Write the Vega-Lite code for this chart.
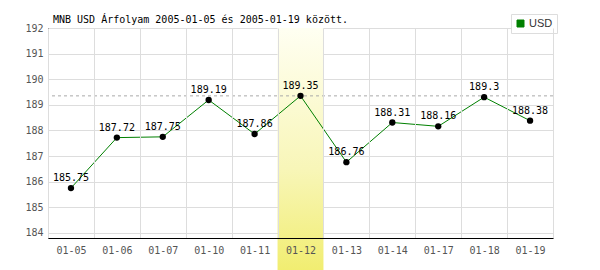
{
  "$schema": "https://vega.github.io/schema/vega-lite/v6.json",
  "width": 505,
  "height": 210,
  "autosize": {"type": "none"},
  "padding": {"left": 48, "top": 28, "right": 47, "bottom": 32},
  "background": "white",
  "title": {
    "text": "MNB USD Árfolyam 2005-01-05 és 2005-01-19 között.",
    "anchor": "start",
    "frame": "group",
    "dx": 5,
    "dy": 17,
    "offset": 6,
    "font": "DejaVu Sans Mono",
    "fontSize": 10,
    "fontWeight": "normal",
    "color": "black"
  },
  "config": {
    "view": {"stroke": null},
    "axis": {
      "labelFont": "DejaVu Sans Mono",
      "labelFontSize": 10,
      "labelColor": "#555",
      "domainColor": "black",
      "domainWidth": 1,
      "ticks": false,
      "gridColor": "#ddd",
      "gridWidth": 1,
      "labelOverlap": false,
      "title": null
    }
  },
  "datasets": {
    "rates": [
      {"d": "01-05", "v": 185.75},
      {"d": "01-06", "v": 187.72},
      {"d": "01-07", "v": 187.75},
      {"d": "01-10", "v": 189.19},
      {"d": "01-11", "v": 187.86},
      {"d": "01-12", "v": 189.35},
      {"d": "01-13", "v": 186.76},
      {"d": "01-14", "v": 188.31},
      {"d": "01-17", "v": 188.16},
      {"d": "01-18", "v": 189.3},
      {"d": "01-19", "v": 188.38}
    ],
    "highlight": [
      {"d": "01-12", "top": 192, "bottom": 181}
    ]
  },
  "encoding": {
    "x": {
      "field": "d",
      "type": "nominal",
      "sort": ["01-05", "01-06", "01-07", "01-10", "01-11", "01-12", "01-13", "01-14", "01-17", "01-18", "01-19"],
      "scale": {"type": "band", "paddingInner": 0, "paddingOuter": 0},
      "axis": {"labelAngle": 0, "labelPadding": 7, "grid": true, "tickBand": "extent", "zindex": 1}
    }
  },
  "layer": [
    {
      "data": {"name": "highlight"},
      "mark": {
        "type": "rect",
        "fill": {
          "gradient": "linear",
          "x1": 0, "y1": 0, "x2": 0, "y2": 1,
          "stops": [
            {"offset": 0, "color": "#fffff2"},
            {"offset": 0.5, "color": "#f8f6b8"},
            {"offset": 1, "color": "#eeea55"}
          ]
        }
      },
      "encoding": {
        "y": {
          "field": "top",
          "type": "quantitative",
          "scale": {"domain": [183.8, 192], "nice": false, "zero": false},
          "axis": {"values": [184, 185, 186, 187, 188, 189, 190, 191, 192], "labelPadding": 5, "grid": true, "zindex": 0}
        },
        "y2": {"field": "bottom"}
      }
    },
    {
      "data": {"name": "rates"},
      "mark": {"type": "rule", "color": "#aaa", "strokeDash": [3, 3], "strokeWidth": 1},
      "encoding": {
        "x": null,
        "y": {"aggregate": "max", "field": "v", "type": "quantitative",
          "axis": {"values": [184, 185, 186, 187, 188, 189, 190, 191, 192], "labelPadding": 5, "grid": true, "zindex": 0}}
      }
    },
    {
      "data": {"name": "rates"},
      "mark": {"type": "line", "strokeWidth": 1},
      "encoding": {
        "y": {"field": "v", "type": "quantitative",
          "axis": {"values": [184, 185, 186, 187, 188, 189, 190, 191, 192], "labelPadding": 5, "grid": true, "zindex": 0}},
        "color": {
          "datum": "USD",
          "scale": {"range": ["#008000"]},
          "legend": {
            "orient": "none",
            "legendX": 463,
            "legendY": -14,
            "title": null,
            "padding": 4,
            "strokeColor": "#ddd",
            "fillColor": "white",
            "labelFont": "Liberation Sans",
            "labelFontSize": 11,
            "labelColor": "#333",
            "labelOffset": 3,
            "symbolType": "square",
            "symbolSize": 49,
            "encode": {
              "symbols": {
                "update": {
                  "fill": {"value": "#008000"},
                  "stroke": {"value": "#004000"},
                  "strokeWidth": {"value": 1},
                  "shape": {"value": "square"}
                }
              }
            }
          }
        }
      }
    },
    {
      "data": {"name": "rates"},
      "mark": {"type": "circle", "color": "black", "size": 40, "opacity": 1},
      "encoding": {
        "y": {"field": "v", "type": "quantitative",
          "axis": {"values": [184, 185, 186, 187, 188, 189, 190, 191, 192], "labelPadding": 5, "grid": true, "zindex": 0}}
      }
    },
    {
      "data": {"name": "rates"},
      "mark": {"type": "text", "font": "DejaVu Sans Mono", "fontSize": 10, "color": "black", "dy": -7, "baseline": "alphabetic"},
      "encoding": {
        "y": {"field": "v", "type": "quantitative",
          "axis": {"values": [184, 185, 186, 187, 188, 189, 190, 191, 192], "labelPadding": 5, "grid": true, "zindex": 0}},
        "text": {"field": "v", "type": "nominal"}
      }
    }
  ]
}
